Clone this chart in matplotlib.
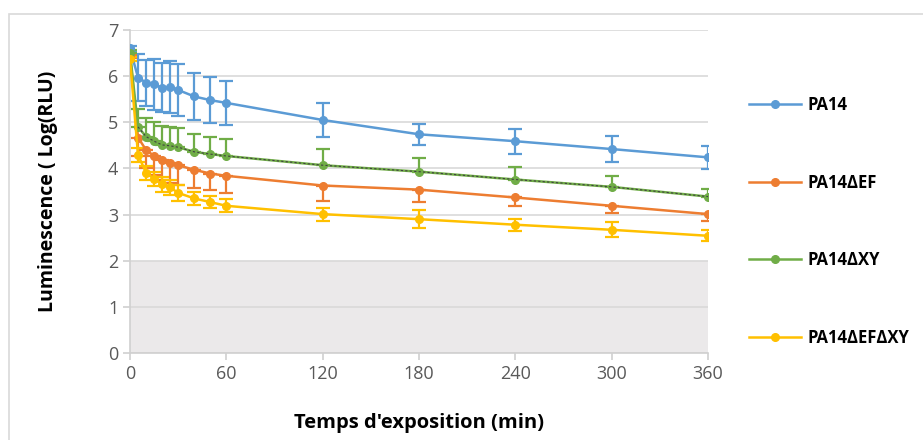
import numpy as np
import matplotlib.pyplot as plt
from matplotlib.patches import Rectangle
from matplotlib.lines import Line2D

plt.rcParams['font.family'] = ['Open Sans', 'DejaVu Sans']

# sampling times (min)
temps = [0, 5, 10, 15, 20, 25, 30, 40, 50, 60, 120, 180, 240, 300, 360]

pa14 = [6.60, 5.97, 5.86, 5.82, 5.75, 5.77, 5.70, 5.56, 5.48, 5.42, 5.05, 4.74, 4.59, 4.42, 4.24]
pa14_err = [0.05, 0.50, 0.50, 0.55, 0.53, 0.56, 0.56, 0.50, 0.50, 0.48, 0.37, 0.23, 0.27, 0.29, 0.25]

ef = [6.45, 4.67, 4.40, 4.27, 4.18, 4.11, 4.07, 3.97, 3.89, 3.84, 3.63, 3.54, 3.37, 3.19, 3.01]
ef_err = [0.05, 0.40, 0.40, 0.42, 0.42, 0.42, 0.42, 0.40, 0.36, 0.38, 0.33, 0.26, 0.18, 0.16, 0.14]

xy = [6.51, 4.90, 4.69, 4.59, 4.51, 4.49, 4.46, 4.36, 4.31, 4.27, 4.07, 3.93, 3.76, 3.60, 3.39]
xy_err = [0.05, 0.39, 0.40, 0.41, 0.42, 0.41, 0.41, 0.38, 0.38, 0.37, 0.35, 0.30, 0.28, 0.23, 0.16]

efxy = [6.37, 4.29, 3.91, 3.77, 3.66, 3.59, 3.47, 3.35, 3.27, 3.19, 3.01, 2.90, 2.78, 2.67, 2.54]
efxy_err = [0.05, 0.15, 0.15, 0.16, 0.16, 0.17, 0.17, 0.15, 0.13, 0.14, 0.14, 0.20, 0.13, 0.16, 0.12]

labels = ['PA14', 'PA14ΔEF', 'PA14ΔXY', 'PA14ΔEFΔXY']
colors = ['#5b9bd5', '#ed7d31', '#70ad47', '#ffc000']

fig = plt.figure(figsize=(9.23, 4.40), dpi=100)
fig.patches.append(Rectangle((9 / 923, -0.1), 1.2, (440 - 14) / 440 + 0.1,
                             transform=fig.transFigure, fill=False,
                             edgecolor='#d9d9d9', lw=1.2))
ax = fig.add_axes([130 / 923, 87 / 440, 578 / 923, 323 / 440])

ax.axhspan(0, 2, color='#ebe9ea', zorder=0)

series = [
    (pa14, pa14_err, 'both'),
    (ef, ef_err, 'minus'),
    (xy, xy_err, 'plus'),
    (efxy, efxy_err, 'both'),
]
handles = []
for (vals, err, side), lab, c in zip(series, labels, colors):
    vals = np.array(vals)
    err = np.array(err)
    lo = err if side in ('both', 'minus') else np.zeros_like(err)
    hi = err if side in ('both', 'plus') else np.zeros_like(err)
    ax.errorbar(temps, vals, yerr=[lo, hi], color=c, lw=1.8, marker='o',
                markersize=5.5, capsize=5, capthick=1.6, elinewidth=1.6,
                zorder=3)
    handles.append(Line2D([], [], color=c, lw=1.8, marker='o', markersize=5.5, label=lab))

# dashed trend overlay on the XY series
ax.plot(temps[1:], xy[1:], color='#404040', lw=0.8, ls=(0, (2, 2)), zorder=4)

ax.set_xlim(0, 360)
ax.set_ylim(0, 7)
ax.set_xticks(range(0, 361, 60))
ax.set_yticks(range(0, 8))
ax.grid(axis='y', color='#d9d9d9', lw=1.2, zorder=1)
ax.set_axisbelow(True)
for s in ['top', 'right']:
    ax.spines[s].set_visible(False)
for s in ['left', 'bottom']:
    ax.spines[s].set_color('#d0d0d0')
    ax.spines[s].set_linewidth(1.2)
ax.tick_params(colors='#d0d0d0', labelcolor='#595959', labelsize=13, length=5, width=1.2)

ax.set_xlabel("Temps d'exposition (min)", fontsize=14.5, fontweight='bold', labelpad=22)
ax.set_ylabel('Luminescence ( Log(RLU)', fontsize=14, fontweight='bold', labelpad=36)

leg = ax.legend(handles=handles, loc='upper left', bbox_to_anchor=(734 / 923, 1 - 81 / 440),
                bbox_transform=fig.transFigure, frameon=False, fontsize=12,
                labelspacing=3.58, handlelength=3.1, handletextpad=0.4)
for t in leg.get_texts():
    t.set_fontweight('bold')

fig.savefig('out.png', dpi=100)
